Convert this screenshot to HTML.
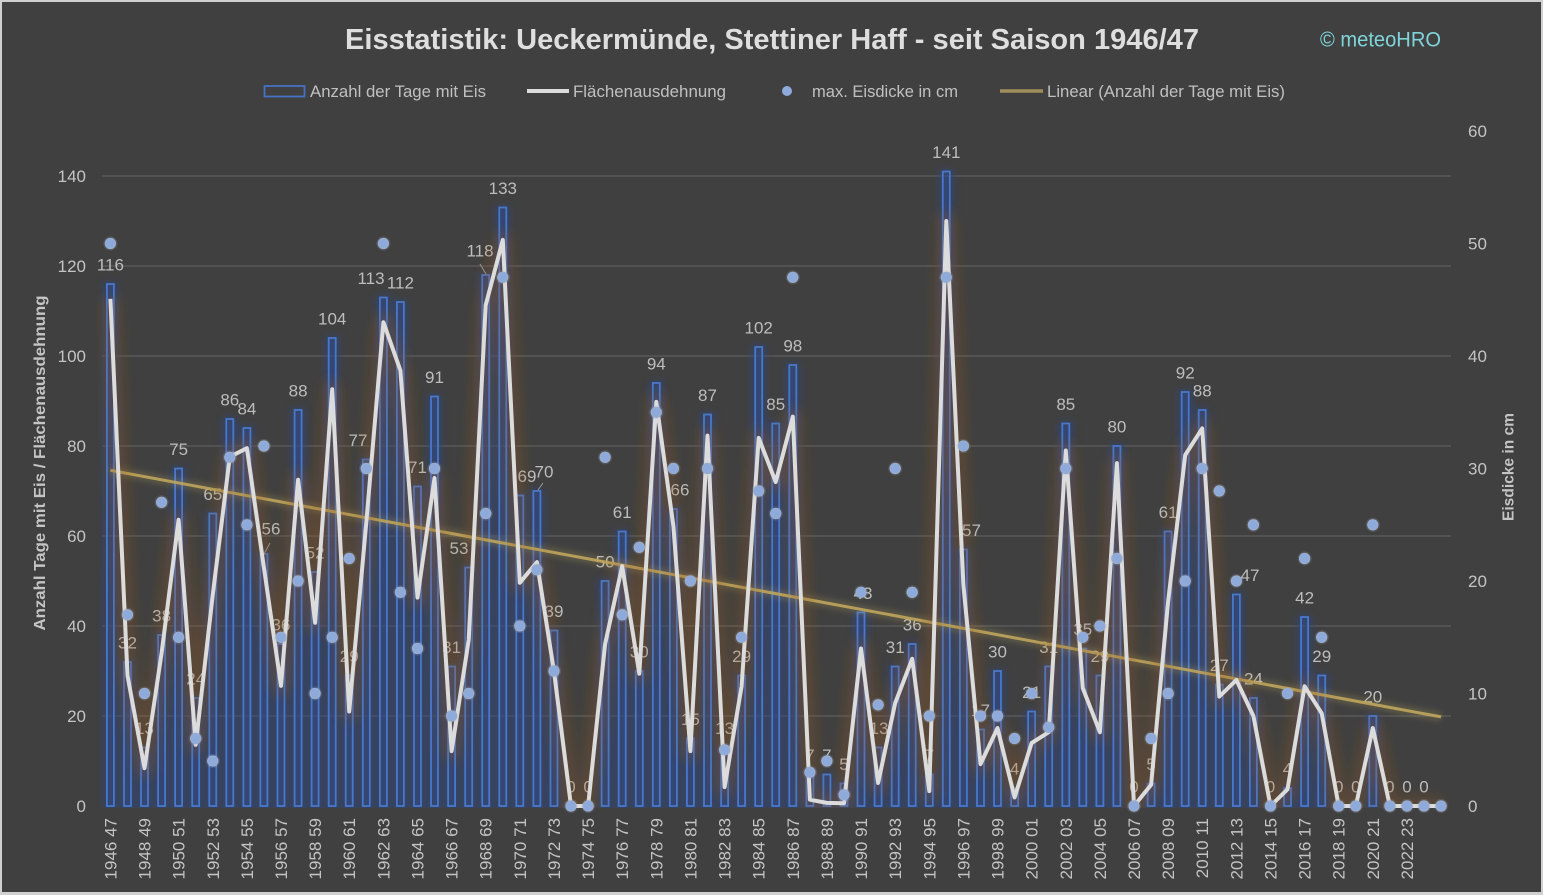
<!DOCTYPE html>
<html>
<head>
<meta charset="utf-8">
<style>
html,body{margin:0;padding:0;background:#404040;}
svg{display:block;}
text{font-family:"Liberation Sans",sans-serif;}
</style>
</head>
<body>
<svg xmlns="http://www.w3.org/2000/svg" xmlns:xlink="http://www.w3.org/1999/xlink" width="1543" height="895" viewBox="0 0 1543 895">
<defs>
  <clipPath id="plot"><rect x="96" y="100" width="1362" height="708"/></clipPath>
  <filter id="blur35" filterUnits="userSpaceOnUse" x="60" y="100" width="1450" height="740">
    <feGaussianBlur stdDeviation="3.5"/>
  </filter>
  <filter id="blur6" filterUnits="userSpaceOnUse" x="60" y="100" width="1450" height="740">
    <feGaussianBlur stdDeviation="6"/>
  </filter>
  <filter id="blur3" filterUnits="userSpaceOnUse" x="60" y="100" width="1450" height="740">
    <feGaussianBlur stdDeviation="3"/>
  </filter>
</defs>

<!-- frame -->
<rect x="0" y="0" width="1543" height="895" fill="#d0d0d0"/>
<rect x="2" y="2" width="1539" height="890" fill="#404040"/>

<!-- title -->
<text x="345" y="49" font-size="29" font-weight="bold" fill="#dedede" textLength="854" lengthAdjust="spacingAndGlyphs">Eisstatistik:  Ueckermünde, Stettiner Haff - seit Saison 1946/47</text>
<text x="1320" y="46.5" font-size="21" fill="#7fd4da" textLength="121" lengthAdjust="spacingAndGlyphs">© meteoHRO</text>

<!-- legend -->
<rect x="264.5" y="86" width="40" height="10.5" fill="none" stroke="#4472c4" stroke-width="1.8"/>
<text x="310" y="97" font-size="16.5" fill="#c0c0c0" textLength="176" lengthAdjust="spacingAndGlyphs">Anzahl der Tage mit Eis</text>
<line x1="527" y1="91" x2="569" y2="91" stroke="#dcdcdc" stroke-width="4"/>
<text x="573" y="97" font-size="16.5" fill="#c0c0c0" textLength="153" lengthAdjust="spacingAndGlyphs">Flächenausdehnung</text>
<circle cx="787" cy="91" r="5" fill="#8eaadb"/>
<text x="812" y="97" font-size="16.5" fill="#c0c0c0" textLength="146" lengthAdjust="spacingAndGlyphs">max. Eisdicke in cm</text>
<line x1="1000" y1="91" x2="1043" y2="91" stroke="#a08f5a" stroke-width="3.5"/>
<text x="1047" y="97" font-size="16.5" fill="#c0c0c0" textLength="238" lengthAdjust="spacingAndGlyphs">Linear (Anzahl der Tage mit Eis)</text>

<!-- gridlines -->
<g stroke="#595959" stroke-width="1.4">
  <line x1="102" y1="176" x2="1451" y2="176"/>
  <line x1="102" y1="266" x2="1451" y2="266"/>
  <line x1="102" y1="356" x2="1451" y2="356"/>
  <line x1="102" y1="446" x2="1451" y2="446"/>
  <line x1="102" y1="536" x2="1451" y2="536"/>
  <line x1="102" y1="626" x2="1451" y2="626"/>
  <line x1="102" y1="716" x2="1451" y2="716"/>
</g>

<!-- left axis labels -->
<g font-size="17" fill="#c4c4c4" text-anchor="end">
  <text x="86" y="812">0</text>
  <text x="86" y="722">20</text>
  <text x="86" y="632">40</text>
  <text x="86" y="542">60</text>
  <text x="86" y="452">80</text>
  <text x="86" y="362">100</text>
  <text x="86" y="272">120</text>
  <text x="86" y="182">140</text>
</g>
<!-- right axis labels -->
<g font-size="17" fill="#c4c4c4">
  <text x="1468" y="812">0</text>
  <text x="1468" y="699.5">10</text>
  <text x="1468" y="587">20</text>
  <text x="1468" y="474.5">30</text>
  <text x="1468" y="362">40</text>
  <text x="1468" y="249.5">50</text>
  <text x="1468" y="137">60</text>
</g>
<!-- axis titles -->
<text transform="translate(45,463) rotate(-90)" text-anchor="middle" font-size="15.5" font-weight="bold" fill="#c4c4c4" textLength="335" lengthAdjust="spacingAndGlyphs">Anzahl Tage mit Eis / Flächenausdehnung</text>
<text transform="translate(1513.5,467) rotate(-90)" text-anchor="middle" font-size="15.5" font-weight="bold" fill="#c4c4c4" textLength="108" lengthAdjust="spacingAndGlyphs">Eisdicke in cm</text>

<!-- bar glow -->
<g clip-path="url(#plot)">
<g filter="url(#blur35)" opacity="0.62" fill="#2e4780">
<rect x="102.9" y="282" width="15" height="530"/>
<rect x="120.0" y="660" width="15" height="152"/>
<rect x="137.0" y="745.5" width="15" height="66.5"/>
<rect x="154.1" y="633" width="15" height="179"/>
<rect x="171.1" y="466.5" width="15" height="345.5"/>
<rect x="188.2" y="696" width="15" height="116"/>
<rect x="205.3" y="511.5" width="15" height="300.5"/>
<rect x="222.3" y="417" width="15" height="395"/>
<rect x="239.4" y="426" width="15" height="386"/>
<rect x="256.4" y="552" width="15" height="260"/>
<rect x="273.5" y="642" width="15" height="170"/>
<rect x="290.6" y="408" width="15" height="404"/>
<rect x="307.6" y="570" width="15" height="242"/>
<rect x="324.7" y="336" width="15" height="476"/>
<rect x="341.7" y="673.5" width="15" height="138.5"/>
<rect x="358.8" y="457.5" width="15" height="354.5"/>
<rect x="375.9" y="295.5" width="15" height="516.5"/>
<rect x="392.9" y="300" width="15" height="512"/>
<rect x="410.0" y="484.5" width="15" height="327.5"/>
<rect x="427.0" y="394.5" width="15" height="417.5"/>
<rect x="444.1" y="664.5" width="15" height="147.5"/>
<rect x="461.2" y="565.5" width="15" height="246.5"/>
<rect x="478.2" y="273" width="15" height="539"/>
<rect x="495.3" y="205.5" width="15" height="606.5"/>
<rect x="512.3" y="493.5" width="15" height="318.5"/>
<rect x="529.4" y="489" width="15" height="323"/>
<rect x="546.5" y="628.5" width="15" height="183.5"/>
<rect x="597.6" y="579" width="15" height="233"/>
<rect x="614.7" y="529.5" width="15" height="282.5"/>
<rect x="631.8" y="669" width="15" height="143"/>
<rect x="648.8" y="381" width="15" height="431"/>
<rect x="665.9" y="507" width="15" height="305"/>
<rect x="682.9" y="736.5" width="15" height="75.5"/>
<rect x="700.0" y="412.5" width="15" height="399.5"/>
<rect x="717.1" y="745.5" width="15" height="66.5"/>
<rect x="734.1" y="673.5" width="15" height="138.5"/>
<rect x="751.2" y="345" width="15" height="467"/>
<rect x="768.2" y="421.5" width="15" height="390.5"/>
<rect x="785.3" y="363" width="15" height="449"/>
<rect x="802.4" y="772.5" width="15" height="39.5"/>
<rect x="819.4" y="772.5" width="15" height="39.5"/>
<rect x="836.5" y="781.5" width="15" height="30.5"/>
<rect x="853.5" y="610.5" width="15" height="201.5"/>
<rect x="870.6" y="745.5" width="15" height="66.5"/>
<rect x="887.7" y="664.5" width="15" height="147.5"/>
<rect x="904.7" y="642" width="15" height="170"/>
<rect x="921.8" y="772.5" width="15" height="39.5"/>
<rect x="938.8" y="169.5" width="15" height="642.5"/>
<rect x="955.9" y="547.5" width="15" height="264.5"/>
<rect x="973.0" y="727.5" width="15" height="84.5"/>
<rect x="990.0" y="669" width="15" height="143"/>
<rect x="1007.1" y="786" width="15" height="26"/>
<rect x="1024.1" y="709.5" width="15" height="102.5"/>
<rect x="1041.2" y="664.5" width="15" height="147.5"/>
<rect x="1058.3" y="421.5" width="15" height="390.5"/>
<rect x="1075.3" y="646.5" width="15" height="165.5"/>
<rect x="1092.4" y="673.5" width="15" height="138.5"/>
<rect x="1109.4" y="444" width="15" height="368"/>
<rect x="1143.6" y="781.5" width="15" height="30.5"/>
<rect x="1160.6" y="529.5" width="15" height="282.5"/>
<rect x="1177.7" y="390" width="15" height="422"/>
<rect x="1194.7" y="408" width="15" height="404"/>
<rect x="1211.8" y="682.5" width="15" height="129.5"/>
<rect x="1228.9" y="592.5" width="15" height="219.5"/>
<rect x="1245.9" y="696" width="15" height="116"/>
<rect x="1280.0" y="786" width="15" height="26"/>
<rect x="1297.1" y="615" width="15" height="197"/>
<rect x="1314.2" y="673.5" width="15" height="138.5"/>
<rect x="1365.3" y="714" width="15" height="98"/>
</g>
</g>

<!-- bars -->
<g fill="#3352a6" fill-opacity="0.18" stroke="#4878cc" stroke-width="1.8">
<rect x="106.9" y="284" width="7" height="522"/>
<rect x="124.0" y="662" width="7" height="144"/>
<rect x="141.0" y="747.5" width="7" height="58.5"/>
<rect x="158.1" y="635" width="7" height="171"/>
<rect x="175.1" y="468.5" width="7" height="337.5"/>
<rect x="192.2" y="698" width="7" height="108"/>
<rect x="209.3" y="513.5" width="7" height="292.5"/>
<rect x="226.3" y="419" width="7" height="387"/>
<rect x="243.4" y="428" width="7" height="378"/>
<rect x="260.4" y="554" width="7" height="252"/>
<rect x="277.5" y="644" width="7" height="162"/>
<rect x="294.6" y="410" width="7" height="396"/>
<rect x="311.6" y="572" width="7" height="234"/>
<rect x="328.7" y="338" width="7" height="468"/>
<rect x="345.7" y="675.5" width="7" height="130.5"/>
<rect x="362.8" y="459.5" width="7" height="346.5"/>
<rect x="379.9" y="297.5" width="7" height="508.5"/>
<rect x="396.9" y="302" width="7" height="504"/>
<rect x="414.0" y="486.5" width="7" height="319.5"/>
<rect x="431.0" y="396.5" width="7" height="409.5"/>
<rect x="448.1" y="666.5" width="7" height="139.5"/>
<rect x="465.2" y="567.5" width="7" height="238.5"/>
<rect x="482.2" y="275" width="7" height="531"/>
<rect x="499.3" y="207.5" width="7" height="598.5"/>
<rect x="516.3" y="495.5" width="7" height="310.5"/>
<rect x="533.4" y="491" width="7" height="315"/>
<rect x="550.5" y="630.5" width="7" height="175.5"/>
<rect x="601.6" y="581" width="7" height="225"/>
<rect x="618.7" y="531.5" width="7" height="274.5"/>
<rect x="635.8" y="671" width="7" height="135"/>
<rect x="652.8" y="383" width="7" height="423"/>
<rect x="669.9" y="509" width="7" height="297"/>
<rect x="686.9" y="738.5" width="7" height="67.5"/>
<rect x="704.0" y="414.5" width="7" height="391.5"/>
<rect x="721.1" y="747.5" width="7" height="58.5"/>
<rect x="738.1" y="675.5" width="7" height="130.5"/>
<rect x="755.2" y="347" width="7" height="459"/>
<rect x="772.2" y="423.5" width="7" height="382.5"/>
<rect x="789.3" y="365" width="7" height="441"/>
<rect x="806.4" y="774.5" width="7" height="31.5"/>
<rect x="823.4" y="774.5" width="7" height="31.5"/>
<rect x="840.5" y="783.5" width="7" height="22.5"/>
<rect x="857.5" y="612.5" width="7" height="193.5"/>
<rect x="874.6" y="747.5" width="7" height="58.5"/>
<rect x="891.7" y="666.5" width="7" height="139.5"/>
<rect x="908.7" y="644" width="7" height="162"/>
<rect x="925.8" y="774.5" width="7" height="31.5"/>
<rect x="942.8" y="171.5" width="7" height="634.5"/>
<rect x="959.9" y="549.5" width="7" height="256.5"/>
<rect x="977.0" y="729.5" width="7" height="76.5"/>
<rect x="994.0" y="671" width="7" height="135"/>
<rect x="1011.1" y="788" width="7" height="18"/>
<rect x="1028.1" y="711.5" width="7" height="94.5"/>
<rect x="1045.2" y="666.5" width="7" height="139.5"/>
<rect x="1062.3" y="423.5" width="7" height="382.5"/>
<rect x="1079.3" y="648.5" width="7" height="157.5"/>
<rect x="1096.4" y="675.5" width="7" height="130.5"/>
<rect x="1113.4" y="446" width="7" height="360"/>
<rect x="1147.6" y="783.5" width="7" height="22.5"/>
<rect x="1164.6" y="531.5" width="7" height="274.5"/>
<rect x="1181.7" y="392" width="7" height="414"/>
<rect x="1198.7" y="410" width="7" height="396"/>
<rect x="1215.8" y="684.5" width="7" height="121.5"/>
<rect x="1232.9" y="594.5" width="7" height="211.5"/>
<rect x="1249.9" y="698" width="7" height="108"/>
<rect x="1284.0" y="788" width="7" height="18"/>
<rect x="1301.1" y="617" width="7" height="189"/>
<rect x="1318.2" y="675.5" width="7" height="130.5"/>
<rect x="1369.3" y="716" width="7" height="90"/>
</g>

<!-- data labels -->
<g font-size="17" fill="#bdbdbd" text-anchor="middle">
<text x="110.4" y="270.5">116</text>
<text x="127.5" y="648.5">32</text>
<text x="144.5" y="734">13</text>
<text x="161.6" y="621.5">38</text>
<text x="178.6" y="455">75</text>
<text x="195.7" y="684.5">24</text>
<text x="212.8" y="500">65</text>
<text x="229.8" y="405.5">86</text>
<text x="246.9" y="414.5">84</text>
<text x="271" y="534.5">56</text>
<text x="281" y="630.5">36</text>
<text x="298.1" y="396.5">88</text>
<text x="315.1" y="558.5">52</text>
<text x="332.2" y="324.5">104</text>
<text x="349.2" y="662">29</text>
<text x="358" y="446">77</text>
<text x="371" y="284">113</text>
<text x="400.4" y="288.5">112</text>
<text x="417.5" y="473">71</text>
<text x="434.5" y="383">91</text>
<text x="451.6" y="653">31</text>
<text x="459" y="554">53</text>
<text x="480" y="256.5">118</text>
<text x="502.8" y="194">133</text>
<text x="527" y="482">69</text>
<text x="544" y="477.5">70</text>
<text x="554" y="617">39</text>
<text x="571" y="792.5">0</text>
<text x="588.1" y="792.5">0</text>
<text x="605.1" y="567.5">50</text>
<text x="622.2" y="518">61</text>
<text x="639.3" y="657.5">30</text>
<text x="656.3" y="369.5">94</text>
<text x="680" y="495.5">66</text>
<text x="690.4" y="725">15</text>
<text x="707.5" y="401">87</text>
<text x="724.6" y="734">13</text>
<text x="741.6" y="662">29</text>
<text x="758.7" y="333.5">102</text>
<text x="775.7" y="410">85</text>
<text x="792.8" y="351.5">98</text>
<text x="809.9" y="761">7</text>
<text x="826.9" y="761">7</text>
<text x="844" y="770">5</text>
<text x="863" y="599">43</text>
<text x="879" y="734">13</text>
<text x="895.2" y="653">31</text>
<text x="912.2" y="630.5">36</text>
<text x="929.3" y="761">7</text>
<text x="946.3" y="158">141</text>
<text x="971.5" y="536">57</text>
<text x="980.5" y="716">17</text>
<text x="997.5" y="657.5">30</text>
<text x="1014.6" y="774.5">4</text>
<text x="1031.6" y="698">21</text>
<text x="1048.7" y="653">31</text>
<text x="1065.8" y="410">85</text>
<text x="1082.8" y="635">35</text>
<text x="1099.9" y="662">29</text>
<text x="1116.9" y="432.5">80</text>
<text x="1134" y="792.5">0</text>
<text x="1151.1" y="770">5</text>
<text x="1168.1" y="518">61</text>
<text x="1185.2" y="378.5">92</text>
<text x="1202.2" y="396.5">88</text>
<text x="1219.3" y="671">27</text>
<text x="1250" y="581">47</text>
<text x="1253.4" y="684.5">24</text>
<text x="1270.5" y="792.5">0</text>
<text x="1287.5" y="774.5">4</text>
<text x="1304.6" y="603.5">42</text>
<text x="1321.7" y="662">29</text>
<text x="1338.7" y="792.5">0</text>
<text x="1355.8" y="792.5">0</text>
<text x="1372.8" y="702.5">20</text>
<text x="1389.9" y="792.5">0</text>
<text x="1407" y="792.5">0</text>
<text x="1424" y="792.5">0</text>
</g>
<g stroke="#9a9a9a" stroke-width="1">
  <line x1="270" y1="543" x2="263.5" y2="555"/>
  <line x1="480" y1="264" x2="486" y2="274"/>
  <line x1="543" y1="483" x2="538" y2="490"/>
</g>

<!-- trend line -->
<line x1="110.4" y1="470.3" x2="1441.1" y2="716.9" stroke="#c8b060" stroke-width="9" stroke-opacity="0.22" filter="url(#blur3)"/>
<line x1="110.4" y1="470.3" x2="1441.1" y2="716.9" stroke="#bfa55c" stroke-width="3" stroke-opacity="0.9"/>

<!-- area line -->
<g clip-path="url(#plot)">
<polyline fill="none" stroke="#9a5a20" stroke-width="18" stroke-opacity="0.3" stroke-linejoin="round" filter="url(#blur6)" points="110.4,298.8 127.5,675.5 144.5,768.2 161.6,653 178.6,519.8 195.7,744.8 212.8,594.5 229.8,456.8 246.9,448.2 263.9,567.5 281,685.8 298.1,479.7 315.1,622.8 332.2,389.3 349.2,711.5 366.3,522.5 383.4,322.2 400.4,370.4 417.5,597.6 434.5,478 451.6,751.1 468.7,640 485.7,305.1 502.8,239.9 519.8,582.8 536.9,562.1 554,671.4 571,806 588.1,806 605.1,644 622.2,566.1 639.3,673.7 656.3,401.9 673.4,526.1 690.4,751.1 707.5,435.6 724.6,787.1 741.6,686.3 758.7,437.9 775.7,482 792.8,416.7 809.9,799.7 826.9,802.9 844,803.3 861,648.5 878.1,783 895.2,703 912.2,658.8 929.3,791.1 946.3,221 963.4,585 980.5,764.1 997.5,728.1 1014.6,797.4 1031.6,743 1048.7,732.2 1065.8,450.5 1082.8,688.1 1099.9,732.2 1116.9,463.1 1134,806 1151.1,784.8 1168.1,601.7 1185.2,455 1202.2,428.4 1219.3,696.6 1236.4,680 1253.4,716 1270.5,806 1287.5,789.3 1304.6,686.3 1321.7,713.3 1338.7,806 1355.8,806 1372.8,728.1 1389.9,806 1407,806 1424,806 1441.1,806"/>
</g>
<polyline fill="none" stroke="#dcdcdc" stroke-width="4" stroke-linejoin="round" points="110.4,298.8 127.5,675.5 144.5,768.2 161.6,653 178.6,519.8 195.7,744.8 212.8,594.5 229.8,456.8 246.9,448.2 263.9,567.5 281,685.8 298.1,479.7 315.1,622.8 332.2,389.3 349.2,711.5 366.3,522.5 383.4,322.2 400.4,370.4 417.5,597.6 434.5,478 451.6,751.1 468.7,640 485.7,305.1 502.8,239.9 519.8,582.8 536.9,562.1 554,671.4 571,806 588.1,806 605.1,644 622.2,566.1 639.3,673.7 656.3,401.9 673.4,526.1 690.4,751.1 707.5,435.6 724.6,787.1 741.6,686.3 758.7,437.9 775.7,482 792.8,416.7 809.9,799.7 826.9,802.9 844,803.3 861,648.5 878.1,783 895.2,703 912.2,658.8 929.3,791.1 946.3,221 963.4,585 980.5,764.1 997.5,728.1 1014.6,797.4 1031.6,743 1048.7,732.2 1065.8,450.5 1082.8,688.1 1099.9,732.2 1116.9,463.1 1134,806 1151.1,784.8 1168.1,601.7 1185.2,455 1202.2,428.4 1219.3,696.6 1236.4,680 1253.4,716 1270.5,806 1287.5,789.3 1304.6,686.3 1321.7,713.3 1338.7,806 1355.8,806 1372.8,728.1 1389.9,806 1407,806 1424,806 1441.1,806"/>

<!-- ice thickness dots -->
<g id="dots" fill="#8eaadb">
<circle cx="110.4" cy="243.5" r="5.6"/>
<circle cx="127.5" cy="614.8" r="5.6"/>
<circle cx="144.5" cy="693.5" r="5.6"/>
<circle cx="161.6" cy="502.3" r="5.6"/>
<circle cx="178.6" cy="637.3" r="5.6"/>
<circle cx="195.7" cy="738.5" r="5.6"/>
<circle cx="212.8" cy="761" r="5.6"/>
<circle cx="229.8" cy="457.3" r="5.6"/>
<circle cx="246.9" cy="524.8" r="5.6"/>
<circle cx="263.9" cy="446" r="5.6"/>
<circle cx="281" cy="637.3" r="5.6"/>
<circle cx="298.1" cy="581" r="5.6"/>
<circle cx="315.1" cy="693.5" r="5.6"/>
<circle cx="332.2" cy="637.3" r="5.6"/>
<circle cx="349.2" cy="558.5" r="5.6"/>
<circle cx="366.3" cy="468.5" r="5.6"/>
<circle cx="383.4" cy="243.5" r="5.6"/>
<circle cx="400.4" cy="592.3" r="5.6"/>
<circle cx="417.5" cy="648.5" r="5.6"/>
<circle cx="434.5" cy="468.5" r="5.6"/>
<circle cx="451.6" cy="716" r="5.6"/>
<circle cx="468.7" cy="693.5" r="5.6"/>
<circle cx="485.7" cy="513.5" r="5.6"/>
<circle cx="502.8" cy="277.3" r="5.6"/>
<circle cx="519.8" cy="626" r="5.6"/>
<circle cx="536.9" cy="569.8" r="5.6"/>
<circle cx="554" cy="671" r="5.6"/>
<circle cx="571" cy="806" r="5.6"/>
<circle cx="588.1" cy="806" r="5.6"/>
<circle cx="605.1" cy="457.3" r="5.6"/>
<circle cx="622.2" cy="614.8" r="5.6"/>
<circle cx="639.3" cy="547.3" r="5.6"/>
<circle cx="656.3" cy="412.3" r="5.6"/>
<circle cx="673.4" cy="468.5" r="5.6"/>
<circle cx="690.4" cy="581" r="5.6"/>
<circle cx="707.5" cy="468.5" r="5.6"/>
<circle cx="724.6" cy="749.8" r="5.6"/>
<circle cx="741.6" cy="637.3" r="5.6"/>
<circle cx="758.7" cy="491" r="5.6"/>
<circle cx="775.7" cy="513.5" r="5.6"/>
<circle cx="792.8" cy="277.3" r="5.6"/>
<circle cx="809.9" cy="772.3" r="5.6"/>
<circle cx="826.9" cy="761" r="5.6"/>
<circle cx="844" cy="794.8" r="5.6"/>
<circle cx="861" cy="592.3" r="5.6"/>
<circle cx="878.1" cy="704.8" r="5.6"/>
<circle cx="895.2" cy="468.5" r="5.6"/>
<circle cx="912.2" cy="592.3" r="5.6"/>
<circle cx="929.3" cy="716" r="5.6"/>
<circle cx="946.3" cy="277.3" r="5.6"/>
<circle cx="963.4" cy="446" r="5.6"/>
<circle cx="980.5" cy="716" r="5.6"/>
<circle cx="997.5" cy="716" r="5.6"/>
<circle cx="1014.6" cy="738.5" r="5.6"/>
<circle cx="1031.6" cy="693.5" r="5.6"/>
<circle cx="1048.7" cy="727.3" r="5.6"/>
<circle cx="1065.8" cy="468.5" r="5.6"/>
<circle cx="1082.8" cy="637.3" r="5.6"/>
<circle cx="1099.9" cy="626" r="5.6"/>
<circle cx="1116.9" cy="558.5" r="5.6"/>
<circle cx="1134" cy="806" r="5.6"/>
<circle cx="1151.1" cy="738.5" r="5.6"/>
<circle cx="1168.1" cy="693.5" r="5.6"/>
<circle cx="1185.2" cy="581" r="5.6"/>
<circle cx="1202.2" cy="468.5" r="5.6"/>
<circle cx="1219.3" cy="491" r="5.6"/>
<circle cx="1236.4" cy="581" r="5.6"/>
<circle cx="1253.4" cy="524.8" r="5.6"/>
<circle cx="1270.5" cy="806" r="5.6"/>
<circle cx="1287.5" cy="693.5" r="5.6"/>
<circle cx="1304.6" cy="558.5" r="5.6"/>
<circle cx="1321.7" cy="637.3" r="5.6"/>
<circle cx="1338.7" cy="806" r="5.6"/>
<circle cx="1355.8" cy="806" r="5.6"/>
<circle cx="1372.8" cy="524.8" r="5.6"/>
<circle cx="1389.9" cy="806" r="5.6"/>
<circle cx="1407" cy="806" r="5.6"/>
<circle cx="1424" cy="806" r="5.6"/>
<circle cx="1441.1" cy="806" r="5.6"/>
</g>
<g fill="none" stroke="#b8b8b8" stroke-opacity="0.18" stroke-width="3">
<use xlink:href="#dots" href="#dots" transform="translate(0,0)"/>
</g>

<!-- x axis labels -->
<g font-size="17" fill="#c4c4c4" text-anchor="end">
<text transform="translate(116.4,818) rotate(-90)">1946 47</text>
<text transform="translate(150.5,818) rotate(-90)">1948 49</text>
<text transform="translate(184.6,818) rotate(-90)">1950 51</text>
<text transform="translate(218.8,818) rotate(-90)">1952 53</text>
<text transform="translate(252.9,818) rotate(-90)">1954 55</text>
<text transform="translate(287,818) rotate(-90)">1956 57</text>
<text transform="translate(321.1,818) rotate(-90)">1958 59</text>
<text transform="translate(355.2,818) rotate(-90)">1960 61</text>
<text transform="translate(389.4,818) rotate(-90)">1962 63</text>
<text transform="translate(423.5,818) rotate(-90)">1964 65</text>
<text transform="translate(457.6,818) rotate(-90)">1966 67</text>
<text transform="translate(491.7,818) rotate(-90)">1968 69</text>
<text transform="translate(525.8,818) rotate(-90)">1970 71</text>
<text transform="translate(560,818) rotate(-90)">1972 73</text>
<text transform="translate(594.1,818) rotate(-90)">1974 75</text>
<text transform="translate(628.2,818) rotate(-90)">1976 77</text>
<text transform="translate(662.3,818) rotate(-90)">1978 79</text>
<text transform="translate(696.4,818) rotate(-90)">1980 81</text>
<text transform="translate(730.6,818) rotate(-90)">1982 83</text>
<text transform="translate(764.7,818) rotate(-90)">1984 85</text>
<text transform="translate(798.8,818) rotate(-90)">1986 87</text>
<text transform="translate(832.9,818) rotate(-90)">1988 89</text>
<text transform="translate(867,818) rotate(-90)">1990 91</text>
<text transform="translate(901.2,818) rotate(-90)">1992 93</text>
<text transform="translate(935.3,818) rotate(-90)">1994 95</text>
<text transform="translate(969.4,818) rotate(-90)">1996 97</text>
<text transform="translate(1003.5,818) rotate(-90)">1998 99</text>
<text transform="translate(1037.6,818) rotate(-90)">2000 01</text>
<text transform="translate(1071.8,818) rotate(-90)">2002 03</text>
<text transform="translate(1105.9,818) rotate(-90)">2004 05</text>
<text transform="translate(1140,818) rotate(-90)">2006 07</text>
<text transform="translate(1174.1,818) rotate(-90)">2008 09</text>
<text transform="translate(1208.2,818) rotate(-90)">2010 11</text>
<text transform="translate(1242.4,818) rotate(-90)">2012 13</text>
<text transform="translate(1276.5,818) rotate(-90)">2014 15</text>
<text transform="translate(1310.6,818) rotate(-90)">2016 17</text>
<text transform="translate(1344.7,818) rotate(-90)">2018 19</text>
<text transform="translate(1378.8,818) rotate(-90)">2020 21</text>
<text transform="translate(1413,818) rotate(-90)">2022 23</text>
</g>
</svg>
</body>
</html>
